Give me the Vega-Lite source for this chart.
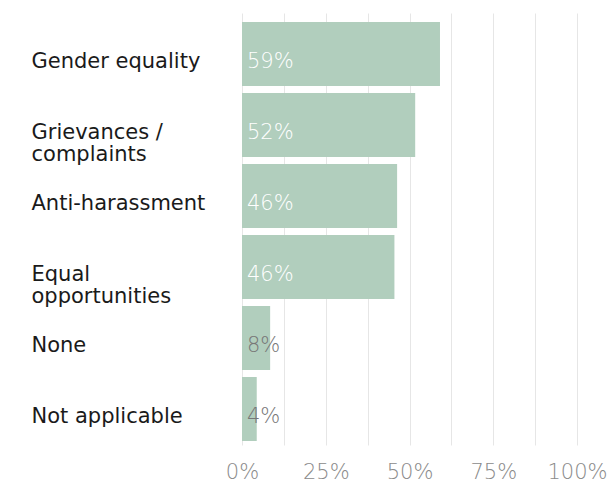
{
  "$schema": "https://vega.github.io/schema/vega-lite/v6.json",
  "width": 335,
  "height": 432,
  "autosize": {"type": "none"},
  "padding": {"left": 242, "top": 13, "right": 31, "bottom": 37},
  "background": "white",
  "config": {"view": {"stroke": null}, "font": "DejaVu Sans"},
  "data": {
    "values": [
      {"category": "Gender equality", "value": 0.591},
      {"category": "Grievances /|complaints", "value": 0.517},
      {"category": "Anti-harassment", "value": 0.463},
      {"category": "Equal|opportunities", "value": 0.455},
      {"category": "None", "value": 0.084},
      {"category": "Not applicable", "value": 0.044}
    ]
  },
  "encoding": {
    "y": {
      "field": "category",
      "type": "nominal",
      "sort": null,
      "scale": {"paddingInner": 0.0986, "paddingOuter": 0.0915, "align": 0.69},
      "axis": {
        "title": null,
        "ticks": false,
        "domain": false,
        "labelAlign": "left",
        "labelPadding": 211,
        "labelOffset": 8,
        "labelFontSize": 21,
        "labelColor": "#1a1a1a",
        "labelLineHeight": 22,
        "labelLimit": 300,
        "labelExpr": "split(datum.label, '|')"
      }
    }
  },
  "layer": [
    {
      "mark": {"type": "bar", "color": "#b1cebd"},
      "encoding": {
        "x": {
          "field": "value",
          "type": "quantitative",
          "scale": {"domain": [0, 1]},
          "axis": {
            "title": null,
            "values": [0, 0.125, 0.25, 0.375, 0.5, 0.625, 0.75, 0.875, 1],
            "labelExpr": "(round(datum.value*1000) % 250 == 0) ? format(datum.value, '.0%') : ''",
            "grid": true,
            "gridColor": "#e6e6e6",
            "ticks": false,
            "domain": false,
            "labelFontSize": 21,
            "labelColor": "#8a8a8a",
            "labelFontWeight": 300,
            "labelPadding": 16,
            "labelFlush": false
          }
        }
      }
    },
    {
      "mark": {"type": "text", "align": "left", "dx": 5, "dy": 8, "fontSize": 21, "fontWeight": 300},
      "encoding": {
        "x": {"datum": 0, "type": "quantitative"},
        "text": {"field": "value", "type": "quantitative", "format": ".0%"},
        "color": {
          "condition": {"test": "datum.value > 0.2", "value": "#ffffff"},
          "value": "#777777"
        }
      }
    }
  ]
}
